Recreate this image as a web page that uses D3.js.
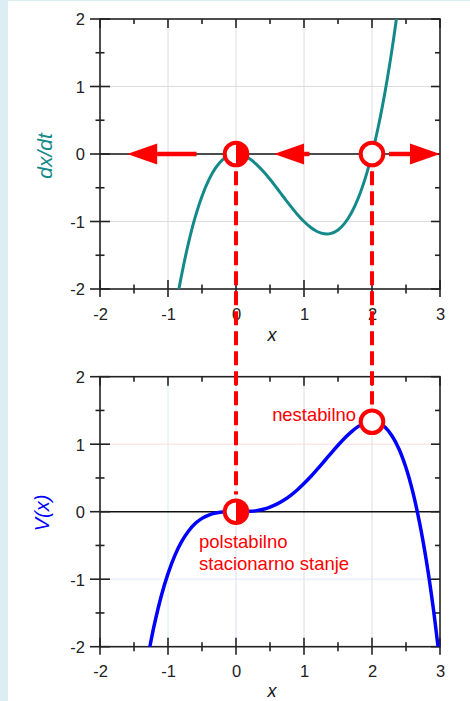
<!DOCTYPE html>
<html>
<head>
<meta charset="utf-8">
<script src="https://cdn.jsdelivr.net/npm/d3@7/dist/d3.min.js"></script>
<style>
  html, body { margin: 0; padding: 0; background: #ffffff; }
  svg { display: block; }
  text { font-family: "Liberation Sans", Arial, sans-serif; }
</style>
</head>
<body>
<script>
// Sampled x positions and values of the two curves
const xsRate = [-0.9, -0.85, -0.8, -0.7, -0.6, -0.5, -0.4, -0.3, -0.2, -0.1, 0, 0.1, 0.2, 0.3, 0.4, 0.5, 0.6, 0.7, 0.8, 0.9, 1.0, 1.1, 1.2, 1.3, 1.4, 1.5, 1.6, 1.7, 1.8, 1.9, 2.0, 2.1, 2.2, 2.3, 2.4];
const rateValues = [-2.349, -2.059, -1.792, -1.323, -0.936, -0.625, -0.384, -0.207, -0.088, -0.021, 0, -0.019, -0.072, -0.153, -0.256, -0.375, -0.504, -0.637, -0.768, -0.891, -1.0, -1.089, -1.152, -1.183, -1.176, -1.125, -1.024, -0.867, -0.648, -0.361, 0, 0.441, 0.968, 1.587, 2.304];

const xsPot = [-1.3, -1.25, -1.2, -1.1, -1.0, -0.9, -0.8, -0.7, -0.6, -0.5, -0.4, -0.3, -0.2, -0.1, 0, 0.1, 0.2, 0.3, 0.4, 0.5, 0.6, 0.7, 0.8, 0.9, 1.0, 1.1, 1.2, 1.3, 1.4, 1.5, 1.6, 1.7, 1.8, 1.9, 2.0, 2.1, 2.2, 2.3, 2.4, 2.5, 2.6, 2.7, 2.8, 2.9, 3.0];
const potValues = [-2.179, -1.912, -1.670, -1.253, -0.917, -0.650, -0.444, -0.289, -0.176, -0.099, -0.049, -0.020, -0.006, -0.001, 0, 0.001, 0.005, 0.016, 0.036, 0.068, 0.112, 0.169, 0.239, 0.322, 0.417, 0.521, 0.634, 0.751, 0.869, 0.984, 1.092, 1.187, 1.264, 1.315, 1.333, 1.312, 1.243, 1.115, 0.922, 0.651, 0.293, -0.166, -0.731, -1.421, -2.25];

// Fixed points: x, dx/dt, V and marker kind
const fixedX = [0, 2];
const fixedRate = [0, 0];
const fixedPot = [0, 1.333];
const fixedKind = ["half", "open"];

// Flow arrows on the phase line: from -> to
const arrowFrom = [-0.58, 1.08, 2.25];
const arrowTo = [-1.6, 0.56, 3.0];

const xTickLabels = ["-2", "-1", "0", "1", "2", "3"];
const yTickLabels = ["-2", "-1", "0", "1", "2"];
const xTicksMajor = [-2, -1, 0, 1, 2, 3];
const xTicksMinor = [-1.5, -0.5, 0.5, 1.5, 2.5];
const yTicksMajor = [-2, -1, 0, 1, 2];
const yTicksMinor = [-1.5, -0.5, 0.5, 1.5];

const W = 470, H = 701;
const RED = "#ff0000";
const TEAL = "#13898a";
const BLUE = "#0000ff";
const FONT = "Liberation Sans, Arial, sans-serif";

const svg = d3.select("body").append("svg").attr("width", W).attr("height", H);

// page border strips
svg.append("rect").attr("x", 0).attr("y", 0).attr("width", 8).attr("height", H).attr("fill", "#dcedf4");
svg.append("rect").attr("x", 0).attr("y", 0).attr("width", W).attr("height", 1).attr("fill", "#dcedf4");

const x = d3.scaleLinear().domain([-2, 3]).range([100, 440]);
const yTop = d3.scaleLinear().domain([-2, 2]).range([289, 19]);
const yBot = d3.scaleLinear().domain([-2, 2]).range([646.7, 376.7]);

const defs = svg.append("defs");

function panel(id, y, gridColorsV, gridColorsH) {
  const g = svg.append("g");
  defs.append("clipPath").attr("id", id)
    .append("rect").attr("x", x(-2)).attr("y", y(2)).attr("width", x(3) - x(-2)).attr("height", y(-2) - y(2));

  // grid lines
  [-1, 0, 1, 2].forEach((v, i) => {
    g.append("line").attr("x1", x(v)).attr("x2", x(v)).attr("y1", y(2)).attr("y2", y(-2))
      .attr("stroke", gridColorsV[i]).attr("stroke-width", 1);
  });
  [1, -1].forEach((v, i) => {
    g.append("line").attr("x1", x(-2)).attr("x2", x(3)).attr("y1", y(v)).attr("y2", y(v))
      .attr("stroke", gridColorsH[i]).attr("stroke-width", 1);
  });
  // zero line
  g.append("line").attr("x1", x(-2)).attr("x2", x(3)).attr("y1", y(0)).attr("y2", y(0))
    .attr("stroke", "#111").attr("stroke-width", 1.4);

  // frame
  const ax = svg.append("g").attr("class", "axes");
  ax.append("rect").attr("x", x(-2)).attr("y", y(2)).attr("width", x(3) - x(-2)).attr("height", y(-2) - y(2))
    .attr("fill", "none").attr("stroke", "#222").attr("stroke-width", 1.6);

  // bottom axis: labels, ticks on both sides
  const bottom = ax.append("g").attr("transform", `translate(0,${y(-2)})`)
    .call(d3.axisBottom(x).tickValues(xTicksMajor).tickSize(0).tickFormat((d, i) => xTickLabels[i]));
  bottom.select(".domain").remove();
  bottom.selectAll("text").attr("dy", 0).attr("y", 30.5).attr("font-size", 16.5).attr("fill", "#222")
    .attr("font-family", FONT);
  xTicksMajor.forEach(v => ax.append("line").attr("x1", x(v)).attr("x2", x(v)).attr("y1", y(-2) - 9).attr("y2", y(-2) + 8).attr("stroke", "#222").attr("stroke-width", 1.6));
  xTicksMinor.forEach(v => ax.append("line").attr("x1", x(v)).attr("x2", x(v)).attr("y1", y(-2) - 4.5).attr("y2", y(-2) + 4.5).attr("stroke", "#222").attr("stroke-width", 1.6));
  // top axis: inward ticks
  xTicksMajor.forEach(v => ax.append("line").attr("x1", x(v)).attr("x2", x(v)).attr("y1", y(2)).attr("y2", y(2) + 9).attr("stroke", "#222").attr("stroke-width", 1.6));
  xTicksMinor.forEach(v => ax.append("line").attr("x1", x(v)).attr("x2", x(v)).attr("y1", y(2)).attr("y2", y(2) + 5).attr("stroke", "#222").attr("stroke-width", 1.6));

  // left axis
  const left = ax.append("g").attr("transform", `translate(${x(-2)},0)`)
    .call(d3.axisLeft(y).tickValues(yTicksMajor).tickSize(0).tickFormat((d, i) => yTickLabels[i]));
  left.select(".domain").remove();
  left.selectAll("text").attr("x", -15).attr("dy", "0.36em").attr("font-size", 16.5).attr("fill", "#222")
    .attr("font-family", FONT);
  yTicksMajor.forEach(v => ax.append("line").attr("x1", x(-2) - 10).attr("x2", x(-2) + 10).attr("y1", y(v)).attr("y2", y(v)).attr("stroke", "#222").attr("stroke-width", 1.6));
  yTicksMinor.forEach(v => ax.append("line").attr("x1", x(-2) - 4.5).attr("x2", x(-2) + 4.5).attr("y1", y(v)).attr("y2", y(v)).attr("stroke", "#222").attr("stroke-width", 1.6));
  // right axis: inward ticks
  yTicksMajor.forEach(v => ax.append("line").attr("x1", x(3) - 9).attr("x2", x(3)).attr("y1", y(v)).attr("y2", y(v)).attr("stroke", "#222").attr("stroke-width", 1.6));
  yTicksMinor.forEach(v => ax.append("line").attr("x1", x(3) - 5).attr("x2", x(3)).attr("y1", y(v)).attr("y2", y(v)).attr("stroke", "#222").attr("stroke-width", 1.6));

  return g;
}

panel("clipTop", yTop, ["#dcdcdc", "#dcdcdc", "#ead6d6", "#dcdcdc"], ["#dcdcdc", "#dcdcdc"]);
panel("clipBot", yBot, ["#d6ecee", "#dcdcf4", "#dcdcdc", "#dcdcdc"], ["#fbdcdc", "#e2e6fa"]);

// curves
const lineTop = d3.line().x((d, i) => x(xsRate[i])).y(d => yTop(d)).curve(d3.curveCatmullRom);
svg.append("path").datum(rateValues).attr("d", lineTop).attr("clip-path", "url(#clipTop)")
  .attr("fill", "none").attr("stroke", TEAL).attr("stroke-width", 3);

const lineBot = d3.line().x((d, i) => x(xsPot[i])).y(d => yBot(d)).curve(d3.curveCatmullRom);
svg.append("path").datum(potValues).attr("d", lineBot).attr("clip-path", "url(#clipBot)")
  .attr("fill", "none").attr("stroke", BLUE).attr("stroke-width", 3.5);

// dashed connectors between the two panels
const R = 11.3;
fixedX.forEach((fx, i) => {
  svg.append("line").attr("x1", x(fx)).attr("x2", x(fx))
    .attr("y1", yTop(fixedRate[i]) + R + 6).attr("y2", yBot(fixedPot[i]) - R - 6)
    .attr("stroke", RED).attr("stroke-width", 4).attr("stroke-dasharray", "14,6");
});

// flow arrows
arrowFrom.forEach((a, i) => {
  const b = arrowTo[i];
  const dir = Math.sign(b - a);
  const tip = x(b), base = tip - dir * 30, y0 = yTop(0);
  svg.append("line").attr("x1", x(a)).attr("x2", base).attr("y1", y0).attr("y2", y0)
    .attr("stroke", RED).attr("stroke-width", 4.5);
  svg.append("path").attr("d", `M${tip},${y0} L${base},${y0 - 10.5} L${base},${y0 + 10.5} Z`).attr("fill", RED);
});

// fixed-point markers
function marker(cx, cy, kind) {
  svg.append("circle").attr("cx", cx).attr("cy", cy).attr("r", R).attr("fill", "#fff");
  if (kind === "half") {
    svg.append("path").attr("d", `M${cx},${cy - R} A${R},${R} 0 0 1 ${cx},${cy + R} Z`).attr("fill", RED);
  }
  svg.append("circle").attr("cx", cx).attr("cy", cy).attr("r", R).attr("fill", "none")
    .attr("stroke", RED).attr("stroke-width", 4);
}
fixedX.forEach((fx, i) => {
  marker(x(fx), yTop(fixedRate[i]), fixedKind[i]);
  marker(x(fx), yBot(fixedPot[i]), fixedKind[i]);
});

// annotations
svg.append("text").attr("x", 356).attr("y", 421).attr("text-anchor", "end")
  .attr("font-size", 18.4).attr("fill", RED).text("nestabilno");
svg.append("text").attr("x", 199).attr("y", 548)
  .attr("font-size", 18.5).attr("fill", RED).text("polstabilno");
svg.append("text").attr("x", 199).attr("y", 569.5)
  .attr("font-size", 18.5).attr("fill", RED).text("stacionarno stanje");

// axis titles
svg.append("text").attr("transform", `translate(52,156) rotate(-90)`).attr("text-anchor", "middle")
  .attr("font-size", 21).attr("font-style", "italic").attr("fill", TEAL).text("dx/dt");
svg.append("text").attr("transform", `translate(49,513) rotate(-90)`).attr("text-anchor", "middle")
  .attr("font-size", 20).attr("font-style", "italic").attr("fill", BLUE).text("V(x)");
svg.append("text").attr("x", 272).attr("y", 341).attr("text-anchor", "middle")
  .attr("font-size", 18).attr("font-style", "italic").attr("fill", "#111").text("x");
svg.append("text").attr("x", 272).attr("y", 697).attr("text-anchor", "middle")
  .attr("font-size", 18).attr("font-style", "italic").attr("fill", "#111").text("x");
</script>
</body>
</html>
